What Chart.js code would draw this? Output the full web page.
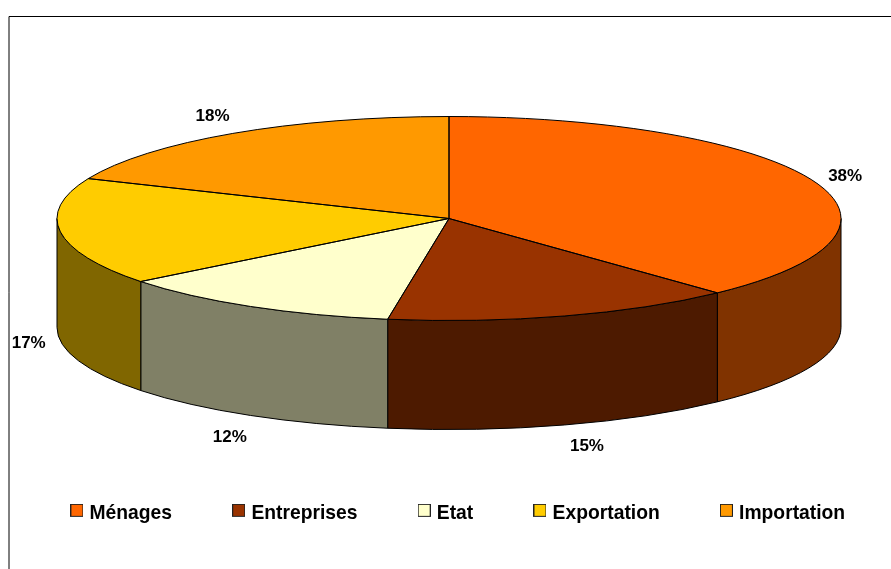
<!DOCTYPE html>
<html>
<head>
<meta charset="utf-8">
<style>
  html, body { margin: 0; padding: 0; background: #fff; overflow: hidden; width: 891px; height: 569px; }
  canvas { display: block; }
</style>
<script src="https://cdn.jsdelivr.net/npm/chart.js@4/dist/chart.umd.min.js"></script>
</head>
<body>
<!-- wider than the window: the legend wraps too early otherwise, the extra part is cut off -->
<canvas id="pie3d" width="950" height="569"></canvas>
<script>
var categories = ['Ménages', 'Entreprises', 'Etat', 'Exportation', 'Importation'];
// printed percentages
var percentLabels = ['38%', '15%', '12%', '17%', '18%'];
// slice sizes as measured on the picture, the 3D view bends them a bit away from the printed numbers
var shares = [38, 14.5, 11.9, 17, 18.6];
var topColors = ['#FF6600', '#993300', '#FFFFCC', '#FFCC00', '#FF9900'];
var sideColors = ['#803300', '#4D1A00', '#808066', '#806600', '#804D00'];
// small corrections to the automatic label anchor, one per slice
var labelNudge = [[1, 3], [13, 2], [-4, 5], [1, 0], [-2, 0]];

var FONT = '"Liberation Sans", Arial, sans-serif';
var pieBox = { cx: 449, cy: 218.5, rx: 392, ry: 102, depth: 109 };
var WINDOW_WIDTH = 891;

// legend swatches: the legend centres the image, so the empty strip below lifts the box
function makeSwatch(color) {
  var c = document.createElement('canvas');
  c.width = 13;
  c.height = 19;
  var g = c.getContext('2d');
  g.fillStyle = color;
  g.fillRect(0, 0, 13, 13);
  g.strokeStyle = '#222';
  g.lineWidth = 1;
  g.strokeRect(0.5, 0.5, 12, 12);
  return c;
}
var swatches = topColors.map(makeSwatch);

var frame = {
  id: 'frame',
  beforeDraw: function(chart) {
    var ctx = chart.ctx;
    ctx.save();
    ctx.strokeStyle = '#000';
    ctx.lineWidth = 1;
    ctx.beginPath();
    ctx.moveTo(9, chart.height);
    ctx.lineTo(9, 16.5);
    ctx.lineTo(WINDOW_WIDTH, 16.5);
    ctx.stroke();
    ctx.restore();
  }
};

var tilt = {
  id: 'tilt',
  beforeDatasetsDraw: function(chart) {
    var ctx = chart.ctx;
    var arcs = chart.getDatasetMeta(0).data;
    var b = pieBox;

    // front walls first, only the part of each slice facing the viewer
    arcs.forEach(function(arc, i) {
      var from = Math.max(arc.startAngle, 0);
      var to = Math.min(arc.endAngle, Math.PI);
      if (to <= from) return;
      ctx.beginPath();
      ctx.ellipse(b.cx, b.cy, b.rx, b.ry, 0, from, to);
      ctx.ellipse(b.cx, b.cy + b.depth, b.rx, b.ry, 0, to, from, true);
      ctx.closePath();
      ctx.fillStyle = sideColors[i];
      ctx.fill();
      ctx.strokeStyle = '#000';
      ctx.lineWidth = 1;
      ctx.stroke();
    });

    // squash the round pie into the ellipse of the top face
    var first = arcs[0];
    ctx.save();
    ctx.translate(b.cx, b.cy);
    ctx.scale(b.rx / first.outerRadius, b.ry / first.outerRadius);
    ctx.translate(-first.x, -first.y);
  },
  afterDatasetsDraw: function(chart) {
    var ctx = chart.ctx;
    var arcs = chart.getDatasetMeta(0).data;
    var b = pieBox;
    ctx.restore();

    // outlines drawn outside the squash so the line keeps an even width
    ctx.strokeStyle = '#000';
    ctx.lineWidth = 1;
    arcs.forEach(function(arc) {
      ctx.beginPath();
      ctx.moveTo(b.cx, b.cy);
      ctx.ellipse(b.cx, b.cy, b.rx, b.ry, 0, arc.startAngle, arc.endAngle);
      ctx.closePath();
      ctx.stroke();
    });

    // percent labels outside the slices
    ctx.fillStyle = '#000';
    ctx.font = 'bold 17px ' + FONT;
    ctx.textAlign = 'center';
    ctx.textBaseline = 'middle';
    arcs.forEach(function(arc, i) {
      var mid = (arc.startAngle + arc.endAngle) / 2;
      var x = b.cx + 425 * Math.cos(mid);
      var y = b.cy + 122 * Math.sin(mid);
      if (Math.sin(mid) > 0) y += b.depth;
      ctx.fillText(percentLabels[i], x + labelNudge[i][0], y + labelNudge[i][1]);
    });
  }
};

new Chart('pie3d', {
  type: 'pie',
  data: {
    labels: categories,
    datasets: [{
      data: shares,
      backgroundColor: topColors,
      borderWidth: 0,
      clip: false
    }]
  },
  options: {
    responsive: false,
    animation: false,
    events: [],
    layout: { padding: { right: 31, bottom: 36 } },
    plugins: {
      tooltip: { enabled: false },
      legend: {
        position: 'bottom',
        maxHeight: 100,
        labels: {
          color: '#000',
          font: { family: FONT, size: 19.3, weight: 'bold' },
          usePointStyle: true,
          pointStyleWidth: 6,
          boxHeight: 14,
          padding: 63.7,
          generateLabels: function(chart) {
            return Chart.overrides.pie.plugins.legend.labels.generateLabels(chart).map(function(item, i) {
              item.pointStyle = swatches[i];
              return item;
            });
          }
        }
      }
    }
  },
  plugins: [frame, tilt]
});
</script>
</body>
</html>
